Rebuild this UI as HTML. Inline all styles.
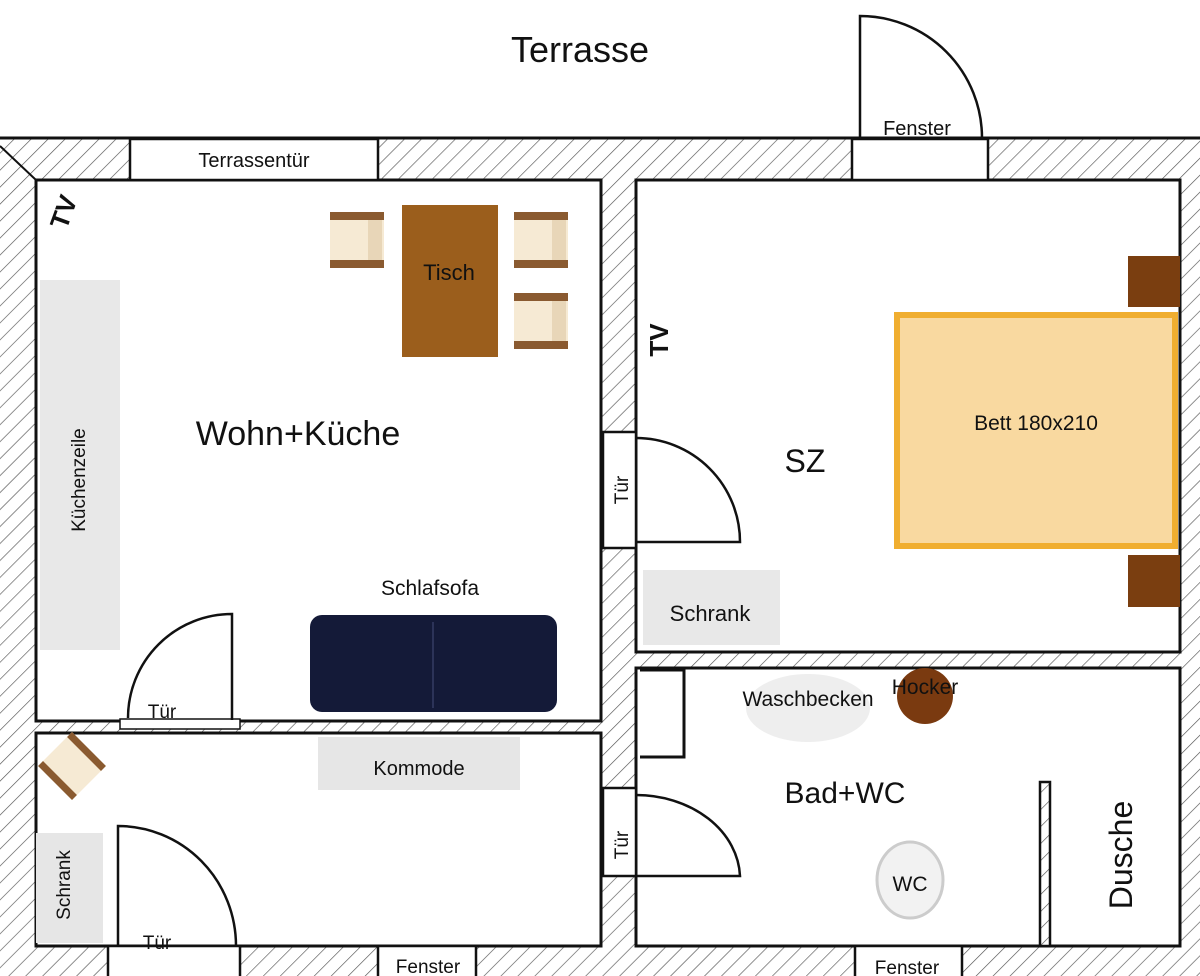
<!DOCTYPE html>
<html><head><meta charset="utf-8"><style>
html,body{margin:0;padding:0;background:#fff}
svg{display:block}
text{font-family:"Liberation Sans","DejaVu Sans",sans-serif;fill:#111}
</style></head><body>
<svg width="1200" height="976" viewBox="0 0 1200 976" xmlns="http://www.w3.org/2000/svg">
<defs>
<pattern id="h" width="12" height="12" patternUnits="userSpaceOnUse" patternTransform="rotate(45)">
<rect width="12" height="12" fill="#fff"/><line x1="0" y1="0" x2="0" y2="12" stroke="#555" stroke-width="1.3"/>
</pattern>
<g id="chair">
<rect x="0" y="0" width="54" height="56" fill="#f6ead4"/>
<rect x="38" y="0" width="14" height="56" fill="#e8d6b8"/>
<rect x="0" y="0" width="54" height="8" fill="#8a5a30"/>
<rect x="0" y="48" width="54" height="8" fill="#8a5a30"/>
</g>
</defs>
<text x="580" y="62" font-size="36" text-anchor="middle">Terrasse</text>
<!-- walls hatch base -->
<rect x="0" y="138" width="1200" height="838" fill="url(#h)"/>
<line x1="0" y1="138" x2="1200" y2="138" stroke="#111" stroke-width="3"/>
<!-- rooms -->
<g fill="#fff" stroke="#111" stroke-width="3">
<rect x="36" y="180" width="565" height="541"/>
<rect x="36" y="733" width="565" height="213"/>
<rect x="636" y="180" width="544" height="472"/>
<rect x="636" y="668" width="544" height="278"/>
</g>
<line x1="0" y1="146" x2="36" y2="180" stroke="#111" stroke-width="2"/>
<!-- openings -->
<g fill="#fff" stroke="#111" stroke-width="2.5">
<rect x="130" y="139" width="248" height="41"/>
<rect x="852" y="139" width="136" height="41"/>
<rect x="603" y="432" width="33" height="116"/>
<rect x="603" y="788" width="33" height="88"/>
<rect x="108" y="946" width="132" height="32"/>
<rect x="378" y="946" width="98" height="32"/>
<rect x="855" y="946" width="107" height="32"/>
<rect x="1040" y="782" width="10" height="164" fill="url(#h)"/>
</g>
<rect x="120" y="719" width="120" height="10" fill="#fff" stroke="#111" stroke-width="1.5"/>
<!-- door arcs -->
<g fill="none" stroke="#111" stroke-width="2.5">
<path d="M860 138 V16 A122 122 0 0 1 982 138"/>
<path d="M232 720 V614 A104 104 0 0 0 128 718"/>
<path d="M636 542 H740 A104 104 0 0 0 636 438"/>
<path d="M636 876 H740 A104 84 0 0 0 636 795"/>
<path d="M118 946 V826 A118 120 0 0 1 236 946"/>
<path d="M640 670 H684 V757 H640" stroke-width="3"/>
</g>
<!-- labels openings -->
<text x="254" y="167" font-size="20" text-anchor="middle">Terrassentür</text>
<text x="917" y="135" font-size="20" text-anchor="middle">Fenster</text>
<text x="162" y="718" font-size="19" text-anchor="middle">Tür</text>
<text x="157" y="949" font-size="19" text-anchor="middle">Tür</text>
<text x="428" y="973" font-size="19" text-anchor="middle">Fenster</text>
<text x="907" y="974" font-size="19" text-anchor="middle">Fenster</text>
<text transform="translate(628,490) rotate(-90)" font-size="19" text-anchor="middle">Tür</text>
<text transform="translate(628,845) rotate(-90)" font-size="19" text-anchor="middle">Tür</text>
<!-- Wohn -->
<rect x="40" y="280" width="80" height="370" fill="#e8e8e8"/>
<text transform="translate(85,480) rotate(-90)" font-size="19" text-anchor="middle">Küchenzeile</text>
<text transform="translate(72,215) rotate(-70)" font-size="26" font-weight="bold" text-anchor="middle">TV</text>
<rect x="402" y="205" width="96" height="152" fill="#9b5e1c"/>
<text x="449" y="280" font-size="22" text-anchor="middle" fill="#2a1a0a">Tisch</text>
<use href="#chair" x="330" y="212"/>
<use href="#chair" x="514" y="212"/>
<use href="#chair" x="514" y="293"/>
<text x="298" y="445" font-size="34" text-anchor="middle">Wohn+Küche</text>
<text x="430" y="595" font-size="21" text-anchor="middle">Schlafsofa</text>
<rect x="310" y="615" width="247" height="97" rx="12" fill="#141a38"/>
<line x1="433" y1="622" x2="433" y2="708" stroke="#2c3358" stroke-width="2"/>
<!-- hall -->
<rect x="318" y="737" width="202" height="53" fill="#e6e6e6"/>
<text x="419" y="775" font-size="20" text-anchor="middle">Kommode</text>
<rect x="36" y="833" width="67" height="110" fill="#e6e6e6"/>
<text transform="translate(70,885) rotate(-90)" font-size="19" text-anchor="middle">Schrank</text>
<g transform="translate(72,766) rotate(45) translate(-24,-24)">
<rect width="48" height="48" fill="#f6ead4"/><rect width="48" height="7" fill="#8a5a30"/><rect y="41" width="48" height="7" fill="#8a5a30"/>
</g>
<!-- SZ -->
<text transform="translate(668,340) rotate(-90)" font-size="26" font-weight="bold" text-anchor="middle">TV</text>
<text x="805" y="472" font-size="32" text-anchor="middle">SZ</text>
<rect x="1128" y="256" width="52" height="51" fill="#7a3e10"/>
<rect x="1128" y="555" width="52" height="52" fill="#7a3e10"/>
<rect x="897" y="315" width="278" height="231" fill="#f9d9a0" stroke="#f0ae30" stroke-width="6"/>
<text x="1036" y="430" font-size="21" text-anchor="middle">Bett 180x210</text>
<rect x="643" y="570" width="137" height="75" fill="#e8e8e8"/>
<text x="710" y="621" font-size="22" text-anchor="middle">Schrank</text>
<!-- Bad -->
<ellipse cx="808" cy="708" rx="62" ry="34" fill="#eeeeee"/>
<text x="808" y="706" font-size="21" text-anchor="middle">Waschbecken</text>
<circle cx="925" cy="696" r="28" fill="#7a3a10"/>
<text x="925" y="694" font-size="21" text-anchor="middle">Hocker</text>
<text x="845" y="803" font-size="30" text-anchor="middle">Bad+WC</text>
<ellipse cx="910" cy="880" rx="33" ry="38" fill="#f2f2f2" stroke="#ccc" stroke-width="3"/>
<text x="910" y="891" font-size="21" text-anchor="middle">WC</text>
<text transform="translate(1132,855) rotate(-90)" font-size="32" text-anchor="middle">Dusche</text>
</svg>
</body></html>
